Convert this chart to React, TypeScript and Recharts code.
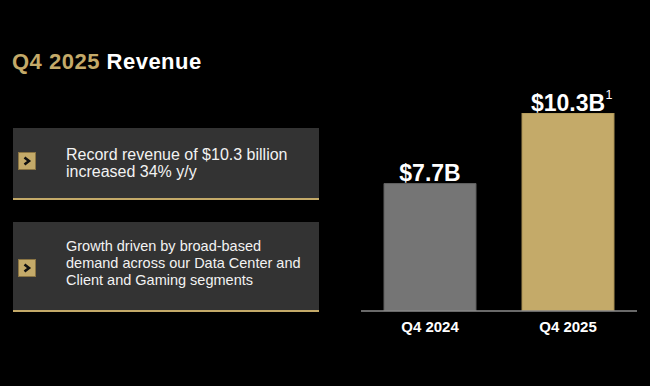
import React from "react";
import { BarChart, Bar, XAxis, YAxis, Cell, LabelList } from "recharts";

const categories = ["Q4 2024", "Q4 2025"];
const revenue = [7.7, 10.3];
const valueLabels = ["$7.7B", "$10.3B"];
const footnotes = ["", "1"];
const barColors = ["#757575", "#C4AA69"];
const barStrokes = ["#5f5f5f", "#a88f52"];

const bullets = [
  ["Record revenue of $10.3 billion", "increased 34% y/y"],
  ["Growth driven by broad-based", "demand across our Data Center and", "Client and Gaming segments"],
];

const data = categories.map((c, i) => ({
  name: c,
  value: revenue[i],
  label: valueLabels[i],
  note: footnotes[i],
}));

const FONT = "'Liberation Sans', Arial, sans-serif";
const GOLD = "#C4AA69";

const ValueLabel = (props: any) => {
  const { x, y, width, index } = props;
  const cx = x + width / 2;
  const d = data[index];
  const by = y - 2.5;
  return (
    <g>
      <text x={cx} y={by} textAnchor="middle" fill="#ffffff" fontFamily={FONT} fontWeight="bold" fontSize={23}>
        {d.label}
      </text>
      {d.note ? (
        <text x={cx + 37.5} y={by - 12} textAnchor="start" fill="#ffffff" fontFamily={FONT} fontSize={12.5}>
          {d.note}
        </text>
      ) : null}
    </g>
  );
};

const Chevron = ({ top }: { top: number }) => (
  <div
    style={{
      position: "absolute",
      left: 18,
      top,
      width: 16,
      height: 16,
      background: GOLD,
      border: "1px solid #8a7443",
    }}
  >
    <svg width={16} height={16} style={{ display: "block" }}>
      <polyline points="5.5,4.5 10,8 5.5,11.5" fill="none" stroke="#111" strokeWidth={2.6} strokeLinejoin="miter" />
    </svg>
  </div>
);

const Box = ({
  top,
  height,
  lines,
  textTop,
  fontSize,
  lineHeight,
}: {
  top: number;
  height: number;
  lines: string[];
  textTop: number;
  fontSize: number;
  lineHeight: number;
}) => (
  <>
    <div
      style={{
        position: "absolute",
        left: 13,
        top,
        width: 306,
        height,
        background: "#333333",
        borderBottom: `2px solid ${GOLD}`,
      }}
    />
    <div
      style={{
        position: "absolute",
        left: 66,
        top: textTop,
        color: "#f2f2f2",
        fontFamily: FONT,
        fontSize,
        lineHeight: `${lineHeight}px`,
        whiteSpace: "nowrap",
      }}
    >
      {lines.map((l, i) => (
        <div key={i}>{l}</div>
      ))}
    </div>
  </>
);

export default function App() {
  return (
    <div
      style={{
        position: "absolute",
        left: 0,
        top: 0,
        width: 650,
        height: 386,
        background: "#000",
        overflow: "hidden",
      }}
    >
      <div
        style={{
          position: "absolute",
          left: 12,
          top: 70.5 - 20,
          fontFamily: FONT,
          fontWeight: "bold",
          fontSize: 22,
          lineHeight: "22px",
          letterSpacing: 0.5,
          whiteSpace: "nowrap",
        }}
      >
        <span style={{ color: GOLD }}>Q4 2025</span>
        <span style={{ color: "#ffffff" }}> Revenue</span>
      </div>

      <Box top={128} height={70} lines={bullets[0]} textTop={145.5} fontSize={16} lineHeight={17.5} />
      <Chevron top={152} />
      <Box top={222} height={88} lines={bullets[1]} textTop={237.5} fontSize={14.5} lineHeight={17} />
      <Chevron top={259} />

      <div style={{ position: "absolute", left: 0, top: 0 }}>
        <BarChart
          width={650}
          height={386}
          data={data}
          margin={{ top: 113, right: 13, bottom: 45, left: 361 }}
        >
          <YAxis hide domain={[3, 10.3]} allowDataOverflow />
          <XAxis
            dataKey="name"
            height={30}
            tickLine={false}
            axisLine={{ stroke: "#8c8c8c", strokeWidth: 1.5 }}
            tickMargin={4}
            tick={{ fill: "#ffffff", fontFamily: FONT, fontWeight: "bold", fontSize: 15 }}
          />
          <Bar dataKey="value" barSize={92} isAnimationActive={false} strokeWidth={1}>
            {data.map((d, i) => (
              <Cell key={d.name} fill={barColors[i]} stroke={barStrokes[i]} />
            ))}
            <LabelList dataKey="label" content={ValueLabel} />
          </Bar>
        </BarChart>
      </div>
    </div>
  );
}
